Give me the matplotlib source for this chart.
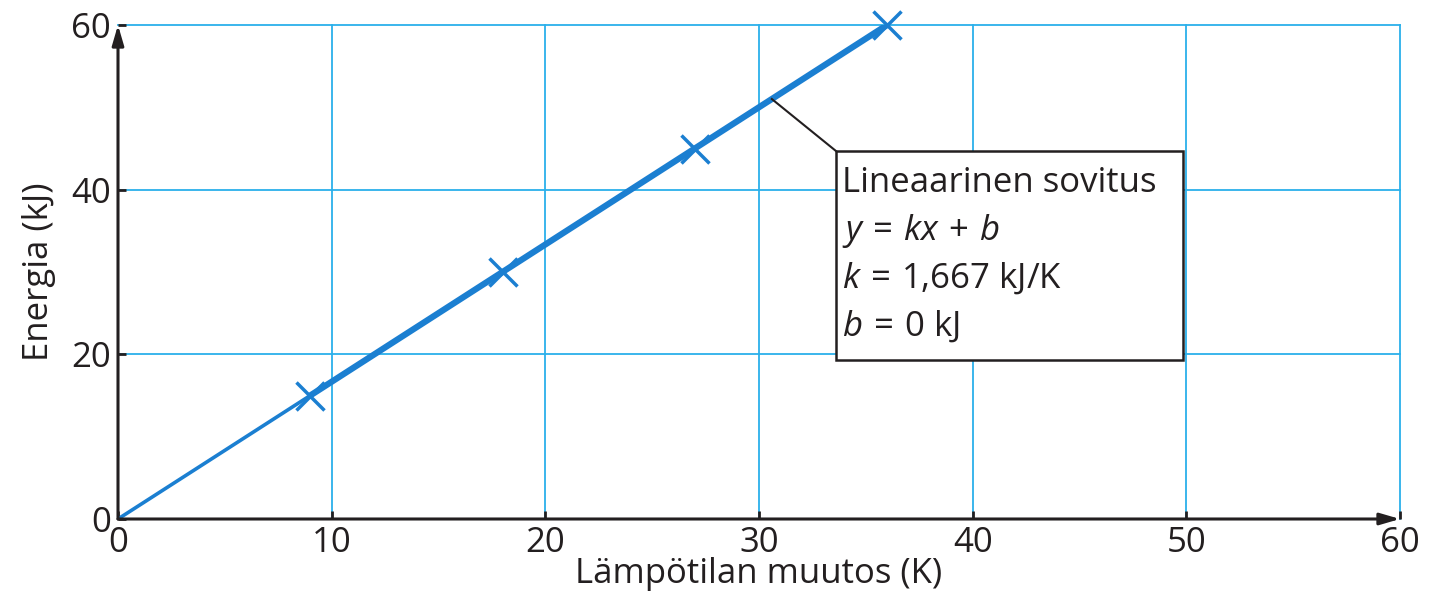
import matplotlib
matplotlib.use("Agg")
import matplotlib.pyplot as plt
from matplotlib.patches import Rectangle

plt.rcParams['font.family'] = ['Open Sans', 'DejaVu Sans']
plt.rcParams['mathtext.fontset'] = 'custom'
plt.rcParams['mathtext.rm'] = 'Open Sans'
plt.rcParams['mathtext.it'] = 'Open Sans:italic'

# Data
temp_change = [9, 18, 27, 36]
energy = [15, 30, 45, 60]
k_fit = 1.667
b_fit = 0.0
x_ticks = [0, 10, 20, 30, 40, 50, 60]
y_ticks = [0, 20, 40, 60]
xlabel = "Lämpötilan muutos (K)"
ylabel = "Energia (kJ)"
box_lines = ["Lineaarinen sovitus", r"$y\,=\,kx\,+\,b$", r"$k\,=\,1{,}667$ kJ/K", r"$b\,=\,0$ kJ"]

blue = '#1b7fd1'
grid_c = '#2bb0ea'
ink = '#231f20'
FS = 25

fig = plt.figure(figsize=(14.32, 6.09), dpi=100)
ax = fig.add_axes([118/1432, (609-519)/609, (1400-118)/1432, (519-25)/609])
ax.set_xlim(0, 60)
ax.set_ylim(0, 60)

for s in ax.spines.values():
    s.set_visible(False)

# grid
for xv in x_ticks[1:]:
    ax.plot([xv, xv], [0, 60], color=grid_c, lw=1.3, zorder=1, clip_on=False)
for yv in y_ticks[1:]:
    ax.plot([0, 60], [yv, yv], color=grid_c, lw=1.3, zorder=1, clip_on=False)

# axes arrows
for end in [(60, 0), (0, 60)]:
    ax.annotate('', xy=end, xytext=(0, 0),
                arrowprops=dict(arrowstyle='-|>,head_length=1.2,head_width=0.35', color=ink, lw=2.2,
                                shrinkA=0, shrinkB=0), annotation_clip=False, zorder=5)

ax.set_xticks(x_ticks)
ax.set_yticks(y_ticks)
ax.tick_params(direction='in', length=6, width=2, color=ink, labelsize=FS,
               labelcolor=ink, pad=5)
ax.set_xticklabels([str(v) for v in x_ticks])
ax.set_yticklabels([str(v) for v in y_ticks])
ax.set_xlabel(xlabel, fontsize=FS, color=ink, labelpad=-2)
ax.set_ylabel(ylabel, fontsize=FS, color=ink, labelpad=11)

# fit line thin from 0, thick over data range
xf = [0, temp_change[-1]]
ax.plot(xf, [k_fit * v + b_fit for v in xf], color=blue, lw=2.6, zorder=3, solid_capstyle='butt')
xf2 = [temp_change[0], temp_change[-1]]
ax.plot(xf2, [k_fit * v + b_fit for v in xf2], color=blue, lw=4.5, zorder=3, solid_capstyle='butt')
ax.plot(temp_change, energy, linestyle='none', marker='x', markersize=20, markeredgewidth=2.5,
        color=blue, zorder=4, clip_on=False)

# annotation box
bx0, by0, bx1, by1 = 33.6, 19.3, 49.85, 44.7
ax.add_patch(Rectangle((bx0, by0), bx1 - bx0, by1 - by0, facecolor='white',
                       edgecolor=ink, lw=1.8, zorder=6))
lx = 30.6
ax.plot([lx, bx0], [k_fit * lx + b_fit, by1], color=ink, lw=1.5, zorder=5)
ys = [40.8, 35.0, 29.2, 23.4]
for t, yv in zip(box_lines, ys):
    ax.text(bx0 + 0.3, yv, t, fontsize=FS, color=ink, va='center', ha='left', zorder=7)

fig.savefig('out.png', dpi=100)
